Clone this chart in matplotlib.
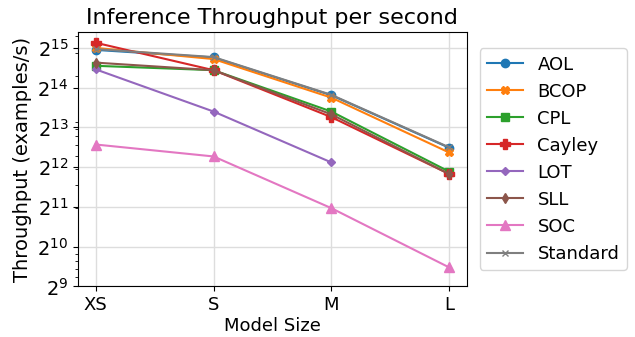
import matplotlib
matplotlib.use("Agg")
import numpy as np
import matplotlib.pyplot as plt
from matplotlib.ticker import LogLocator, NullFormatter

sizes = ["XS", "S", "M", "L"]

# throughput values (examples/s), as powers of two
aol = [2**14.95, 2**14.76, 2**13.81, 2**12.49]
bcop = [2**15.0, 2**14.72, 2**13.75, 2**12.37]
cpl = [2**14.55, 2**14.44, 2**13.40, 2**11.89]
cayley = [2**15.13, 2**14.44, 2**13.26, 2**11.83]
lot = [2**14.46, 2**13.40, 2**12.12, None]
sll = [2**14.63, 2**14.44, 2**13.33, 2**11.83]
soc = [2**12.57, 2**12.27, 2**10.97, 2**9.48]
standard = [2**14.97, 2**14.77, 2**13.82, 2**12.50]

series = [
    ("AOL", aol, "o", 6),
    ("BCOP", bcop, "X", 6),
    ("CPL", cpl, "s", 6),
    ("Cayley", cayley, "P", 6.5),
    ("LOT", lot, "D", 4.5),
    ("SLL", sll, "d", 5),
    ("SOC", soc, "^", 6.5),
    ("Standard", standard, "x", 4),
]

plt.rcParams['font.size'] = 12.5
fig, ax = plt.subplots(figsize=(6.35, 3.37), dpi=100)
fig.subplots_adjust(left=0.123, right=0.735, top=0.905, bottom=0.15)

for name, vals, mk, ms in series:
    xs = [s for s, v in zip(sizes, vals) if v is not None]
    ys = [v for v in vals if v is not None]
    ax.plot(xs, ys, marker=mk, markersize=ms, label=name)

ax.set_yscale("log", base=2)
ax.yaxis.set_major_locator(LogLocator(base=2, numticks=20))
ax.yaxis.set_minor_locator(LogLocator(base=10, subs=np.arange(2, 10), numticks=20))
ax.yaxis.set_minor_formatter(NullFormatter())
ax.set_ylim(2**9, 2**15.4)
ax.tick_params(axis="x", labelsize=13)
ax.tick_params(axis="y", labelsize=14)
ax.grid(True, which="major", color="#dddddd", linewidth=1)
ax.set_axisbelow(True)
ax.set_title("Inference Throughput per second", fontsize=16)
ax.set_xlabel("Model Size", fontsize=13, labelpad=2)
ax.set_ylabel("Throughput (examples/s)", fontsize=14)
ax.legend(loc="center left", bbox_to_anchor=(1.01, 0.5), fontsize=13)

fig.savefig("out.png")
